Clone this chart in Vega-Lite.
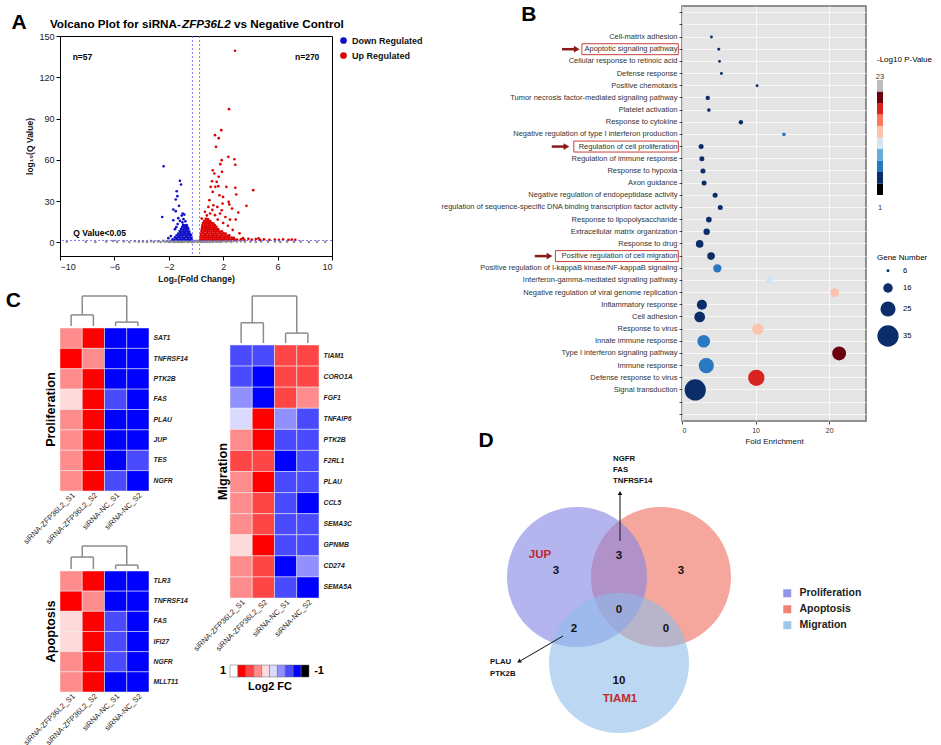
{
  "$schema": "https://vega.github.io/schema/vega-lite/v6.json",
  "background": "white",
  "padding": {"left": 5, "top": 3, "right": 0, "bottom": 0},
  "config": {
    "font": "Liberation Sans",
    "view": {"stroke": null},
    "axis": {"labelFont": "Liberation Sans", "titleFont": "Liberation Sans", "labelColor": "#222", "titleColor": "#111"},
    "legend": {"labelFont": "Liberation Sans", "titleFont": "Liberation Sans"},
    "title": {"font": "Liberation Sans"},
    "text": {"font": "Liberation Sans"}
  },
  "spacing": 15,
  "resolve": {"scale": {"color": "independent", "size": "independent"}},
  "hconcat": [
    {
      "spacing": 7,
      "resolve": {"scale": {"color": "independent"}},
      "vconcat": [
        {
          "spacing": -6,
          "resolve": {"scale": {"color": "independent"}},
          "vconcat": [
            {
              "width": 272, "height": 30,
              "layer": [
                {"data": {"values": [{}]}, "mark": {"type": "text", "text": "A", "fontSize": 21, "fontWeight": "bold", "align": "center", "baseline": "middle"},
                 "encoding": {"x": {"datum": -13.0, "type": "quantitative", "scale": {"domain": [-10, 10], "nice": false, "zero": false}, "axis": null},
                              "y": {"datum": 13, "type": "quantitative", "scale": {"domain": [0, 30], "nice": false, "zero": false}, "axis": null}}},
                {"data": {"values": [{}]}, "mark": {"type": "text", "text": "Volcano Plot for siRNA-", "fontSize": 11.7, "fontWeight": "bold", "align": "left", "baseline": "middle"},
                 "encoding": {"x": {"datum": -10.74, "type": "quantitative"}, "y": {"datum": 12, "type": "quantitative"}}},
                {"data": {"values": [{}]}, "mark": {"type": "text", "text": "ZFP36L2", "fontSize": 11.7, "fontWeight": "bold", "fontStyle": "italic", "align": "left", "baseline": "middle"},
                 "encoding": {"x": {"datum": -1.03, "type": "quantitative"}, "y": {"datum": 12, "type": "quantitative"}}},
                {"data": {"values": [{}]}, "mark": {"type": "text", "text": "vs Negative Control", "fontSize": 11.7, "fontWeight": "bold", "align": "left", "baseline": "middle"},
                 "encoding": {"x": {"datum": 2.8, "type": "quantitative"}, "y": {"datum": 12, "type": "quantitative"}}}
              ]
            },
            {
              "width": 272, "height": 220,
              "view": {"stroke": "#000", "strokeWidth": 1},
              "layer": [
                {
                  "data": {"values": [
                    {"x":-9.5,"y":0.4,"g":"n"},{"x":-8.1,"y":0.3,"g":"n"},{"x":-7.4,"y":0.2,"g":"n"},{"x":-6.6,"y":0.5,"g":"n"},{"x":-6.1,"y":0.9,"g":"n"},{"x":-5.8,"y":0.3,"g":"n"},{"x":-5.3,"y":0.6,"g":"n"},{"x":-4.9,"y":0.2,"g":"n"},{"x":-4.5,"y":0.7,"g":"n"},{"x":-4.2,"y":0.3,"g":"n"},{"x":-3.9,"y":0.5,"g":"n"},{"x":-3.6,"y":0.2,"g":"n"},{"x":-3.3,"y":0.8,"g":"n"},{"x":-3.1,"y":0.3,"g":"n"},{"x":-2.8,"y":0.6,"g":"n"},{"x":-2.6,"y":0.2,"g":"n"},{"x":-2.4,"y":1.0,"g":"n"},{"x":-2.25,"y":0.4,"g":"n"},{"x":-2.1,"y":0.7,"g":"n"},{"x":-1.95,"y":0.2,"g":"n"},{"x":-1.85,"y":1.1,"g":"n"},{"x":-1.75,"y":0.5,"g":"n"},{"x":-1.6,"y":0.15,"g":"n"},{"x":-1.55,"y":0.8,"g":"n"},{"x":-1.45,"y":0.35,"g":"n"},{"x":-1.35,"y":1.0,"g":"n"},{"x":-1.25,"y":0.2,"g":"n"},{"x":-1.15,"y":0.6,"g":"n"},{"x":-1.05,"y":0.1,"g":"n"},{"x":-0.95,"y":0.9,"g":"n"},{"x":-0.85,"y":0.35,"g":"n"},{"x":-0.75,"y":1.1,"g":"n"},{"x":-0.65,"y":0.45,"g":"n"},{"x":-0.55,"y":0.2,"g":"n"},{"x":-0.45,"y":0.95,"g":"n"},{"x":-0.35,"y":0.5,"g":"n"},{"x":-0.25,"y":1.2,"g":"n"},{"x":-0.15,"y":0.3,"g":"n"},{"x":-0.05,"y":0.7,"g":"n"},{"x":0.05,"y":1.0,"g":"n"},{"x":0.15,"y":0.25,"g":"n"},{"x":0.25,"y":1.1,"g":"n"},{"x":0.35,"y":0.45,"g":"n"},{"x":0.45,"y":0.8,"g":"n"},{"x":0.55,"y":0.2,"g":"n"},{"x":0.65,"y":1.15,"g":"n"},{"x":0.75,"y":0.55,"g":"n"},{"x":0.85,"y":0.3,"g":"n"},{"x":0.95,"y":0.9,"g":"n"},{"x":1.05,"y":0.2,"g":"n"},{"x":1.15,"y":0.65,"g":"n"},{"x":1.3,"y":1.0,"g":"n"},{"x":1.45,"y":0.35,"g":"n"},{"x":1.6,"y":0.8,"g":"n"},{"x":1.75,"y":0.2,"g":"n"},{"x":1.9,"y":0.55,"g":"n"},{"x":2.05,"y":1.05,"g":"n"},{"x":2.2,"y":0.3,"g":"n"},{"x":2.4,"y":0.7,"g":"n"},{"x":2.6,"y":0.2,"g":"n"},{"x":2.8,"y":0.9,"g":"n"},{"x":3.0,"y":0.4,"g":"n"},{"x":3.3,"y":0.7,"g":"n"},{"x":3.6,"y":0.3,"g":"n"},{"x":4.0,"y":0.5,"g":"n"},{"x":4.4,"y":0.2,"g":"n"},{"x":4.8,"y":0.6,"g":"n"},{"x":5.3,"y":0.3,"g":"n"},{"x":5.8,"y":0.5,"g":"n"},{"x":6.2,"y":0.2,"g":"n"},{"x":6.7,"y":0.4,"g":"n"},{"x":7.2,"y":0.3,"g":"n"},{"x":7.7,"y":0.5,"g":"n"},{"x":8.3,"y":0.2,"g":"n"},{"x":8.9,"y":0.4,"g":"n"},{"x":9.5,"y":0.3,"g":"n"},{"x":-0.9,"y":0.5,"g":"n"},{"x":-0.6,"y":0.8,"g":"n"},{"x":-0.3,"y":0.1,"g":"n"},{"x":0.1,"y":0.55,"g":"n"},{"x":0.4,"y":0.15,"g":"n"},{"x":0.7,"y":0.4,"g":"n"},{"x":1.0,"y":0.6,"g":"n"},{"x":1.25,"y":0.3,"g":"n"},{"x":1.55,"y":0.5,"g":"n"},{"x":1.85,"y":0.8,"g":"n"},{"x":-1.9,"y":0.6,"g":"n"},{"x":-2.0,"y":0.3,"g":"n"},{"x":-1.3,"y":0.55,"g":"n"},{"x":-1.7,"y":0.9,"g":"n"},
                    {"x":-2.38,"y":55.3,"g":"d"},{"x":-1.18,"y":44.7,"g":"d"},{"x":-1.1,"y":42.0,"g":"d"},{"x":-1.42,"y":37.1,"g":"d"},{"x":-1.37,"y":33.5,"g":"d"},{"x":-1.49,"y":31.1,"g":"d"},{"x":-1.25,"y":26.5,"g":"d"},{"x":-1.67,"y":23.8,"g":"d"},{"x":-1.49,"y":22.6,"g":"d"},{"x":-0.98,"y":20.9,"g":"d"},{"x":-1.05,"y":19.4,"g":"d"},{"x":-0.86,"y":20.1,"g":"d"},{"x":-2.48,"y":18.4,"g":"d"},{"x":-1.3,"y":17.5,"g":"d"},{"x":-1.67,"y":16.0,"g":"d"},{"x":-1.18,"y":15.5,"g":"d"},{"x":-0.92,"y":16.8,"g":"d"},{"x":-1.0,"y":14.5,"g":"d"},{"x":-1.35,"y":13.2,"g":"d"},{"x":-2.03,"y":3.0,"g":"d"},{"x":-1.85,"y":4.5,"g":"d"},{"x":-1.55,"y":9.5,"g":"d"},{"x":-1.45,"y":11.0,"g":"d"},{"x":-0.78,"y":15.2,"g":"d"},
                    {"x":-1.72,"y":2.1,"g":"d"},{"x":-1.58,"y":1.9,"g":"d"},{"x":-1.44,"y":2.3,"g":"d"},{"x":-1.3,"y":1.8,"g":"d"},{"x":-1.16,"y":2.2,"g":"d"},{"x":-1.02,"y":1.9,"g":"d"},{"x":-0.88,"y":2.3,"g":"d"},{"x":-0.74,"y":1.8,"g":"d"},{"x":-0.6,"y":2.1,"g":"d"},{"x":-0.46,"y":1.9,"g":"d"},{"x":-0.34,"y":2.2,"g":"d"},
                    {"x":-1.55,"y":3.6,"g":"d"},{"x":-1.41,"y":3.3,"g":"d"},{"x":-1.27,"y":3.7,"g":"d"},{"x":-1.13,"y":3.4,"g":"d"},{"x":-0.99,"y":3.6,"g":"d"},{"x":-0.85,"y":3.3,"g":"d"},{"x":-0.71,"y":3.7,"g":"d"},{"x":-0.57,"y":3.4,"g":"d"},{"x":-0.43,"y":3.6,"g":"d"},{"x":-0.33,"y":3.3,"g":"d"},
                    {"x":-1.42,"y":5.1,"g":"d"},{"x":-1.28,"y":4.8,"g":"d"},{"x":-1.14,"y":5.2,"g":"d"},{"x":-1.0,"y":4.9,"g":"d"},{"x":-0.86,"y":5.1,"g":"d"},{"x":-0.72,"y":4.8,"g":"d"},{"x":-0.58,"y":5.2,"g":"d"},{"x":-0.44,"y":4.9,"g":"d"},{"x":-0.36,"y":5.3,"g":"d"},
                    {"x":-1.3,"y":6.4,"g":"d"},{"x":-1.16,"y":6.7,"g":"d"},{"x":-1.02,"y":6.3,"g":"d"},{"x":-0.88,"y":6.6,"g":"d"},{"x":-0.74,"y":6.4,"g":"d"},{"x":-0.6,"y":6.7,"g":"d"},{"x":-0.46,"y":6.3,"g":"d"},
                    {"x":-1.2,"y":8.1,"g":"d"},{"x":-1.06,"y":7.8,"g":"d"},{"x":-0.92,"y":8.2,"g":"d"},{"x":-0.78,"y":7.9,"g":"d"},{"x":-0.64,"y":8.1,"g":"d"},{"x":-0.5,"y":7.8,"g":"d"},
                    {"x":-1.1,"y":9.6,"g":"d"},{"x":-0.96,"y":9.3,"g":"d"},{"x":-0.82,"y":9.7,"g":"d"},{"x":-0.68,"y":9.4,"g":"d"},{"x":-0.56,"y":9.6,"g":"d"},
                    {"x":-1.02,"y":11.1,"g":"d"},{"x":-0.88,"y":10.8,"g":"d"},{"x":-0.74,"y":11.2,"g":"d"},{"x":-0.62,"y":10.9,"g":"d"},
                    {"x":-0.95,"y":12.6,"g":"d"},{"x":-0.8,"y":12.3,"g":"d"},{"x":-0.68,"y":12.5,"g":"d"},
                    {"x":2.87,"y":139.3,"g":"u"},{"x":2.43,"y":96.8,"g":"u"},{"x":1.86,"y":81.5,"g":"u"},{"x":1.4,"y":77.9,"g":"u"},{"x":1.67,"y":75.7,"g":"u"},{"x":1.47,"y":69.4,"g":"u"},{"x":2.38,"y":62.1,"g":"u"},{"x":2.82,"y":60.4,"g":"u"},{"x":1.89,"y":59.7,"g":"u"},{"x":2.89,"y":56.3,"g":"u"},{"x":1.79,"y":56.8,"g":"u"},{"x":1.23,"y":52.4,"g":"u"},{"x":1.35,"y":50.0,"g":"u"},{"x":1.91,"y":51.2,"g":"u"},{"x":1.67,"y":47.6,"g":"u"},{"x":4.21,"y":37.9,"g":"u"},{"x":2.89,"y":39.6,"g":"u"},{"x":1.18,"y":44.4,"g":"u"},{"x":1.52,"y":43.9,"g":"u"},{"x":1.42,"y":40.3,"g":"u"},{"x":1.08,"y":40.3,"g":"u"},{"x":1.64,"y":40.8,"g":"u"},{"x":2.23,"y":40.3,"g":"u"},{"x":1.23,"y":36.6,"g":"u"},{"x":1.72,"y":34.2,"g":"u"},{"x":2.96,"y":34.7,"g":"u"},{"x":2.4,"y":29.4,"g":"u"},{"x":3.71,"y":26.5,"g":"u"},{"x":1.99,"y":33.0,"g":"u"},{"x":2.65,"y":24.5,"g":"u"},{"x":3.11,"y":21.6,"g":"u"},{"x":2.92,"y":16.5,"g":"u"},{"x":2.5,"y":16.5,"g":"u"},{"x":2.16,"y":18.4,"g":"u"},{"x":1.89,"y":23.3,"g":"u"},{"x":1.57,"y":25.7,"g":"u"},{"x":1.28,"y":26.9,"g":"u"},{"x":0.99,"y":30.6,"g":"u"},{"x":0.91,"y":25.7,"g":"u"},{"x":0.66,"y":22.1,"g":"u"},{"x":1.03,"y":20.9,"g":"u"},{"x":1.4,"y":19.7,"g":"u"},{"x":1.77,"y":20.9,"g":"u"},{"x":0.42,"y":17.2,"g":"u"},{"x":1.2,"y":23.5,"g":"u"},{"x":0.8,"y":19.5,"g":"u"},{"x":1.6,"y":16.5,"g":"u"},{"x":2.0,"y":14.0,"g":"u"},{"x":2.35,"y":12.0,"g":"u"},{"x":2.7,"y":9.0,"g":"u"},{"x":3.2,"y":6.5,"g":"u"},{"x":2.45,"y":27.5,"g":"u"},{"x":1.95,"y":28.2,"g":"u"},
                    {"x":3.3,"y":2.2,"g":"u"},{"x":3.55,"y":1.8,"g":"u"},{"x":3.85,"y":2.5,"g":"u"},{"x":4.1,"y":1.9,"g":"u"},{"x":4.4,"y":2.3,"g":"u"},{"x":4.7,"y":1.7,"g":"u"},{"x":5.0,"y":2.1,"g":"u"},{"x":5.4,"y":1.8,"g":"u"},{"x":5.8,"y":2.0,"g":"u"},{"x":6.1,"y":1.7,"g":"u"},{"x":6.4,"y":2.2,"g":"u"},{"x":6.8,"y":1.8,"g":"u"},{"x":7.05,"y":2.0,"g":"u"},{"x":7.3,"y":1.7,"g":"u"},{"x":3.45,"y":3.0,"g":"u"},{"x":4.6,"y":2.8,"g":"u"},
                    {"x":0.32,"y":2.1,"g":"u"},{"x":0.47,"y":1.8,"g":"u"},{"x":0.62,"y":2.2,"g":"u"},{"x":0.77,"y":1.9,"g":"u"},{"x":0.92,"y":2.3,"g":"u"},{"x":1.07,"y":1.8,"g":"u"},{"x":1.22,"y":2.1,"g":"u"},{"x":1.37,"y":1.9,"g":"u"},{"x":1.52,"y":2.2,"g":"u"},{"x":1.67,"y":1.8,"g":"u"},{"x":1.82,"y":2.1,"g":"u"},{"x":1.97,"y":1.9,"g":"u"},{"x":2.12,"y":2.2,"g":"u"},{"x":2.27,"y":1.8,"g":"u"},{"x":2.42,"y":2.1,"g":"u"},{"x":2.57,"y":1.9,"g":"u"},{"x":2.72,"y":2.2,"g":"u"},{"x":2.87,"y":1.8,"g":"u"},{"x":3.02,"y":2.0,"g":"u"},
                    {"x":0.34,"y":3.6,"g":"u"},{"x":0.49,"y":3.3,"g":"u"},{"x":0.64,"y":3.7,"g":"u"},{"x":0.79,"y":3.4,"g":"u"},{"x":0.94,"y":3.6,"g":"u"},{"x":1.09,"y":3.3,"g":"u"},{"x":1.24,"y":3.7,"g":"u"},{"x":1.39,"y":3.4,"g":"u"},{"x":1.54,"y":3.6,"g":"u"},{"x":1.69,"y":3.3,"g":"u"},{"x":1.84,"y":3.7,"g":"u"},{"x":1.99,"y":3.4,"g":"u"},{"x":2.14,"y":3.6,"g":"u"},{"x":2.29,"y":3.3,"g":"u"},{"x":2.44,"y":3.6,"g":"u"},{"x":2.62,"y":3.4,"g":"u"},{"x":2.78,"y":3.2,"g":"u"},
                    {"x":0.36,"y":5.1,"g":"u"},{"x":0.51,"y":4.8,"g":"u"},{"x":0.66,"y":5.2,"g":"u"},{"x":0.81,"y":4.9,"g":"u"},{"x":0.96,"y":5.1,"g":"u"},{"x":1.11,"y":4.8,"g":"u"},{"x":1.26,"y":5.2,"g":"u"},{"x":1.41,"y":4.9,"g":"u"},{"x":1.56,"y":5.1,"g":"u"},{"x":1.71,"y":4.8,"g":"u"},{"x":1.86,"y":5.2,"g":"u"},{"x":2.01,"y":4.9,"g":"u"},{"x":2.16,"y":5.1,"g":"u"},{"x":2.31,"y":4.8,"g":"u"},{"x":2.45,"y":5.0,"g":"u"},
                    {"x":0.38,"y":6.4,"g":"u"},{"x":0.53,"y":6.7,"g":"u"},{"x":0.68,"y":6.3,"g":"u"},{"x":0.83,"y":6.6,"g":"u"},{"x":0.98,"y":6.4,"g":"u"},{"x":1.13,"y":6.7,"g":"u"},{"x":1.28,"y":6.3,"g":"u"},{"x":1.43,"y":6.6,"g":"u"},{"x":1.58,"y":6.4,"g":"u"},{"x":1.73,"y":6.7,"g":"u"},{"x":1.88,"y":6.3,"g":"u"},{"x":2.03,"y":6.6,"g":"u"},{"x":2.18,"y":6.4,"g":"u"},
                    {"x":0.4,"y":8.1,"g":"u"},{"x":0.55,"y":7.8,"g":"u"},{"x":0.7,"y":8.2,"g":"u"},{"x":0.85,"y":7.9,"g":"u"},{"x":1.0,"y":8.1,"g":"u"},{"x":1.15,"y":7.8,"g":"u"},{"x":1.3,"y":8.2,"g":"u"},{"x":1.45,"y":7.9,"g":"u"},{"x":1.6,"y":8.1,"g":"u"},{"x":1.75,"y":7.8,"g":"u"},{"x":1.9,"y":8.0,"g":"u"},
                    {"x":0.43,"y":9.6,"g":"u"},{"x":0.58,"y":9.3,"g":"u"},{"x":0.73,"y":9.7,"g":"u"},{"x":0.88,"y":9.4,"g":"u"},{"x":1.03,"y":9.6,"g":"u"},{"x":1.18,"y":9.3,"g":"u"},{"x":1.33,"y":9.7,"g":"u"},{"x":1.48,"y":9.4,"g":"u"},{"x":1.63,"y":9.5,"g":"u"},
                    {"x":0.45,"y":11.1,"g":"u"},{"x":0.6,"y":10.8,"g":"u"},{"x":0.75,"y":11.2,"g":"u"},{"x":0.9,"y":10.9,"g":"u"},{"x":1.05,"y":11.1,"g":"u"},{"x":1.2,"y":10.8,"g":"u"},{"x":1.35,"y":11.0,"g":"u"},{"x":1.5,"y":11.2,"g":"u"},
                    {"x":0.48,"y":12.6,"g":"u"},{"x":0.63,"y":12.3,"g":"u"},{"x":0.78,"y":12.7,"g":"u"},{"x":0.93,"y":12.4,"g":"u"},{"x":1.08,"y":12.6,"g":"u"},{"x":1.23,"y":12.3,"g":"u"},{"x":1.38,"y":12.5,"g":"u"},
                    {"x":0.52,"y":14.1,"g":"u"},{"x":0.67,"y":13.8,"g":"u"},{"x":0.82,"y":14.2,"g":"u"},{"x":0.97,"y":13.9,"g":"u"},{"x":1.12,"y":14.1,"g":"u"},{"x":1.27,"y":13.8,"g":"u"},
                    {"x":0.6,"y":15.6,"g":"u"},{"x":0.75,"y":15.3,"g":"u"},{"x":0.9,"y":15.7,"g":"u"},{"x":1.05,"y":15.4,"g":"u"},{"x":0.72,"y":17.1,"g":"u"},{"x":0.88,"y":16.8,"g":"u"}
                  ]},
                  "mark": {"type": "circle", "size": 7, "opacity": 1},
                  "encoding": {
                    "x": {"field": "x", "type": "quantitative", "scale": {"domain": [-10, 10], "nice": false, "zero": false},
                          "axis": {"values": [-10, -8, -6, -4, -2, 0, 2, 4, 6, 8, 10], "labelOverlap": false, "title": "Log₂(Fold Change)", "grid": false, "tickSize": 4, "tickColor": "#000", "domainColor": "#000", "labelFontSize": 9, "titleFontSize": 8.5, "titleFontWeight": "bold", "titlePadding": 3, "labelPadding": 2}},
                    "y": {"field": "y", "type": "quantitative", "scale": {"domain": [-10, 150], "nice": false, "zero": false},
                          "axis": {"values": [0, 30, 60, 90, 120, 150], "labelOverlap": false, "title": "log₁₀(Q Value)", "grid": false, "tickSize": 4, "tickColor": "#000", "domainColor": "#000", "labelFontSize": 9, "titleFontSize": 8.5, "titleFontWeight": "bold", "titlePadding": 4, "labelPadding": 2}},
                    "color": {"field": "g", "type": "nominal",
                              "scale": {"domain": ["d", "u", "n"], "range": ["#1010c8", "#dd0000", "#8c8c8c"]},
                              "legend": {"values": ["d", "u"], "labelExpr": "datum.label == 'd' ? 'Down Regulated' : 'Up Regulated'", "title": null, "orient": "right", "offset": 7, "symbolType": "circle", "symbolSize": 45, "labelFontSize": 9, "labelFontWeight": "bold", "labelColor": "#111", "rowPadding": 5, "padding": 0}}
                  }
                },
                {"data": {"values": [{}]}, "mark": {"type": "rule", "color": "#5a5aff", "strokeDash": [2, 2], "strokeWidth": 0.8}, "encoding": {"x": {"datum": -0.263, "type": "quantitative"}}},
                {"data": {"values": [{}]}, "mark": {"type": "rule", "color": "#5a5aff", "strokeDash": [2, 2], "strokeWidth": 0.8}, "encoding": {"x": {"datum": 0.263, "type": "quantitative"}}},
                {"data": {"values": [{}]}, "mark": {"type": "rule", "color": "#5a5aff", "strokeDash": [2, 2], "strokeWidth": 0.8}, "encoding": {"y": {"datum": 1.3, "type": "quantitative"}}},
                {"data": {"values": [{}]}, "mark": {"type": "text", "text": "n=57", "fontSize": 8.5, "fontWeight": "bold", "align": "left"}, "encoding": {"x": {"datum": -9.07, "type": "quantitative"}, "y": {"datum": 135, "type": "quantitative"}}},
                {"data": {"values": [{}]}, "mark": {"type": "text", "text": "n=270", "fontSize": 8.5, "fontWeight": "bold", "align": "left"}, "encoding": {"x": {"datum": 7.28, "type": "quantitative"}, "y": {"datum": 135, "type": "quantitative"}}},
                {"data": {"values": [{}]}, "mark": {"type": "text", "text": "Q Value<0.05", "fontSize": 8.5, "fontWeight": "bold", "align": "left"}, "encoding": {"x": {"datum": -9.02, "type": "quantitative"}, "y": {"datum": 6.8, "type": "quantitative"}}}
              ]
            }
          ]
        },
        {
          "spacing": 3,
          "hconcat": [
            {
              "spacing": -14,
              "vconcat": [
                {
                  "spacing": 0,
                  "vconcat": [
                    {
                      "width": 89, "height": 30,
                      "layer": [
                        {"data": {"values": [
                          {"x":0.5,"x2":0.5,"y":0,"y2":0.37},{"x":1.5,"x2":1.5,"y":0,"y2":0.37},{"x":0.5,"x2":1.5,"y":0.37,"y2":0.37},
                          {"x":2.5,"x2":2.5,"y":0,"y2":0.13},{"x":3.5,"x2":3.5,"y":0,"y2":0.13},{"x":2.5,"x2":3.5,"y":0.13,"y2":0.13},
                          {"x":1,"x2":1,"y":0.37,"y2":1},{"x":3,"x2":3,"y":0.13,"y2":1},{"x":1,"x2":3,"y":1,"y2":1}]},
                         "mark": {"type": "rule", "color": "#8c8c8c", "strokeWidth": 1.5},
                         "encoding": {"x": {"field": "x", "type": "quantitative", "scale": {"domain": [0, 4], "nice": false, "zero": false}, "axis": null}, "x2": {"field": "x2"},
                                      "y": {"field": "y", "type": "quantitative", "scale": {"domain": [0, 1], "nice": false}, "axis": null}, "y2": {"field": "y2"}}},
                        {"data": {"values": [{}]}, "mark": {"type": "text", "text": "C", "fontSize": 21, "fontWeight": "bold", "align": "center", "baseline": "middle"},
                         "encoding": {"x": {"datum": -2.1, "type": "quantitative"}, "y": {"datum": 0.83, "type": "quantitative"}}}
                      ]
                    },
                    {
                      "width": 89, "height": 163,
                      "title": {"text": "Proliferation", "orient": "left", "fontSize": 12.7, "fontWeight": "bold", "offset": -36, "anchor": "middle", "frame": "group", "color": "#000"},
                      "data": {"values": [
                        {"g":"SAT1","s":"siRNA-ZFP36L2_S1","v":0.3},{"g":"SAT1","s":"siRNA-ZFP36L2_S2","v":0.7},{"g":"SAT1","s":"siRNA-NC_S1","v":-0.7},{"g":"SAT1","s":"siRNA-NC_S2","v":-0.7},
                        {"g":"TNFRSF14","s":"siRNA-ZFP36L2_S1","v":0.7},{"g":"TNFRSF14","s":"siRNA-ZFP36L2_S2","v":0.3},{"g":"TNFRSF14","s":"siRNA-NC_S1","v":-0.7},{"g":"TNFRSF14","s":"siRNA-NC_S2","v":-0.7},
                        {"g":"PTK2B","s":"siRNA-ZFP36L2_S1","v":0.3},{"g":"PTK2B","s":"siRNA-ZFP36L2_S2","v":0.7},{"g":"PTK2B","s":"siRNA-NC_S1","v":-0.7},{"g":"PTK2B","s":"siRNA-NC_S2","v":-0.7},
                        {"g":"FAS","s":"siRNA-ZFP36L2_S1","v":0.1},{"g":"FAS","s":"siRNA-ZFP36L2_S2","v":0.7},{"g":"FAS","s":"siRNA-NC_S1","v":-0.5},{"g":"FAS","s":"siRNA-NC_S2","v":-0.7},
                        {"g":"PLAU","s":"siRNA-ZFP36L2_S1","v":0.3},{"g":"PLAU","s":"siRNA-ZFP36L2_S2","v":0.7},{"g":"PLAU","s":"siRNA-NC_S1","v":-0.7},{"g":"PLAU","s":"siRNA-NC_S2","v":-0.7},
                        {"g":"JUP","s":"siRNA-ZFP36L2_S1","v":0.3},{"g":"JUP","s":"siRNA-ZFP36L2_S2","v":0.7},{"g":"JUP","s":"siRNA-NC_S1","v":-0.7},{"g":"JUP","s":"siRNA-NC_S2","v":-0.7},
                        {"g":"TES","s":"siRNA-ZFP36L2_S1","v":0.3},{"g":"TES","s":"siRNA-ZFP36L2_S2","v":0.7},{"g":"TES","s":"siRNA-NC_S1","v":-0.7},{"g":"TES","s":"siRNA-NC_S2","v":-0.5},
                        {"g":"NGFR","s":"siRNA-ZFP36L2_S1","v":0.3},{"g":"NGFR","s":"siRNA-ZFP36L2_S2","v":0.7},{"g":"NGFR","s":"siRNA-NC_S1","v":-0.5},{"g":"NGFR","s":"siRNA-NC_S2","v":-0.7}]},
                      "mark": {"type": "rect", "stroke": "#eeeeee", "strokeWidth": 0.5},
                      "encoding": {
                        "x": {"field": "s", "type": "nominal", "sort": null, "scale": {"paddingInner": 0, "paddingOuter": 0}, "axis": {"title": null, "labelAngle": -45, "labelFontSize": 7.6, "ticks": false, "domain": false, "labelPadding": 0, "labelLimit": 200}},
                        "y": {"field": "g", "type": "nominal", "sort": null, "scale": {"paddingInner": 0, "paddingOuter": 0}, "axis": {"orient": "right", "title": null, "labelFontSize": 6.8, "labelFontStyle": "italic", "labelFontWeight": "bold", "ticks": false, "domain": false, "labelPadding": 4}},
                        "color": {"field": "v", "type": "quantitative", "scale": {"type": "quantize", "domain": [-1, 1], "range": ["#000000", "#0000ff", "#4a4aff", "#9090ff", "#dadaff", "#ffdada", "#ff8c8c", "#ff4646", "#ff0000", "#ffffff"]}, "legend": null}
                      }
                    }
                  ]
                },
                {
                  "spacing": 0,
                  "vconcat": [
                    {
                      "width": 89, "height": 23,
                      "data": {"values": [
                        {"x":0.5,"x2":0.5,"y":0,"y2":0.52},{"x":1.5,"x2":1.5,"y":0,"y2":0.52},{"x":0.5,"x2":1.5,"y":0.52,"y2":0.52},
                        {"x":2.5,"x2":2.5,"y":0,"y2":0.17},{"x":3.5,"x2":3.5,"y":0,"y2":0.17},{"x":2.5,"x2":3.5,"y":0.17,"y2":0.17},
                        {"x":1,"x2":1,"y":0.52,"y2":1},{"x":3,"x2":3,"y":0.17,"y2":1},{"x":1,"x2":3,"y":1,"y2":1}]},
                      "mark": {"type": "rule", "color": "#8c8c8c", "strokeWidth": 1.5},
                      "encoding": {"x": {"field": "x", "type": "quantitative", "scale": {"domain": [0, 4], "nice": false, "zero": false}, "axis": null}, "x2": {"field": "x2"},
                                   "y": {"field": "y", "type": "quantitative", "scale": {"domain": [0, 1], "nice": false}, "axis": null}, "y2": {"field": "y2"}}
                    },
                    {
                      "width": 89, "height": 121,
                      "title": {"text": "Apoptosis", "orient": "left", "fontSize": 12.7, "fontWeight": "bold", "offset": -36, "anchor": "middle", "frame": "group", "color": "#000"},
                      "data": {"values": [
                        {"g":"TLR3","s":"siRNA-ZFP36L2_S1","v":0.3},{"g":"TLR3","s":"siRNA-ZFP36L2_S2","v":0.7},{"g":"TLR3","s":"siRNA-NC_S1","v":-0.7},{"g":"TLR3","s":"siRNA-NC_S2","v":-0.7},
                        {"g":"TNFRSF14","s":"siRNA-ZFP36L2_S1","v":0.7},{"g":"TNFRSF14","s":"siRNA-ZFP36L2_S2","v":0.3},{"g":"TNFRSF14","s":"siRNA-NC_S1","v":-0.7},{"g":"TNFRSF14","s":"siRNA-NC_S2","v":-0.7},
                        {"g":"FAS","s":"siRNA-ZFP36L2_S1","v":0.1},{"g":"FAS","s":"siRNA-ZFP36L2_S2","v":0.7},{"g":"FAS","s":"siRNA-NC_S1","v":-0.5},{"g":"FAS","s":"siRNA-NC_S2","v":-0.7},
                        {"g":"IFI27","s":"siRNA-ZFP36L2_S1","v":0.1},{"g":"IFI27","s":"siRNA-ZFP36L2_S2","v":0.7},{"g":"IFI27","s":"siRNA-NC_S1","v":-0.5},{"g":"IFI27","s":"siRNA-NC_S2","v":-0.7},
                        {"g":"NGFR","s":"siRNA-ZFP36L2_S1","v":0.3},{"g":"NGFR","s":"siRNA-ZFP36L2_S2","v":0.7},{"g":"NGFR","s":"siRNA-NC_S1","v":-0.5},{"g":"NGFR","s":"siRNA-NC_S2","v":-0.7},
                        {"g":"MLLT11","s":"siRNA-ZFP36L2_S1","v":0.3},{"g":"MLLT11","s":"siRNA-ZFP36L2_S2","v":0.7},{"g":"MLLT11","s":"siRNA-NC_S1","v":-0.7},{"g":"MLLT11","s":"siRNA-NC_S2","v":-0.7}]},
                      "mark": {"type": "rect", "stroke": "#eeeeee", "strokeWidth": 0.5},
                      "encoding": {
                        "x": {"field": "s", "type": "nominal", "sort": null, "scale": {"paddingInner": 0, "paddingOuter": 0}, "axis": {"title": null, "labelAngle": -45, "labelFontSize": 7.6, "ticks": false, "domain": false, "labelPadding": 0, "labelLimit": 200}},
                        "y": {"field": "g", "type": "nominal", "sort": null, "scale": {"paddingInner": 0, "paddingOuter": 0}, "axis": {"orient": "right", "title": null, "labelFontSize": 6.8, "labelFontStyle": "italic", "labelFontWeight": "bold", "ticks": false, "domain": false, "labelPadding": 4}},
                        "color": {"field": "v", "type": "quantitative", "scale": {"type": "quantize", "domain": [-1, 1], "range": ["#000000", "#0000ff", "#4a4aff", "#9090ff", "#dadaff", "#ffdada", "#ff8c8c", "#ff4646", "#ff0000", "#ffffff"]}, "legend": null}
                      }
                    }
                  ]
                }
              ]
            },
            {
              "spacing": 11,
              "vconcat": [
                {
                  "spacing": 0,
                  "vconcat": [
                    {
                      "width": 89, "height": 47,
                      "data": {"values": [
                        {"x":0.5,"x2":0.5,"y":0,"y2":0.43},{"x":1.5,"x2":1.5,"y":0,"y2":0.43},{"x":0.5,"x2":1.5,"y":0.43,"y2":0.43},
                        {"x":2.5,"x2":2.5,"y":0,"y2":0.21},{"x":3.5,"x2":3.5,"y":0,"y2":0.21},{"x":2.5,"x2":3.5,"y":0.21,"y2":0.21},
                        {"x":1,"x2":1,"y":0.43,"y2":1},{"x":3,"x2":3,"y":0.21,"y2":1},{"x":1,"x2":3,"y":1,"y2":1}]},
                      "mark": {"type": "rule", "color": "#8c8c8c", "strokeWidth": 1.5},
                      "encoding": {"x": {"field": "x", "type": "quantitative", "scale": {"domain": [0, 4], "nice": false, "zero": false}, "axis": null}, "x2": {"field": "x2"},
                                   "y": {"field": "y", "type": "quantitative", "scale": {"domain": [0, 1], "nice": false}, "axis": null}, "y2": {"field": "y2"}}
                    },
                    {
                      "width": 89, "height": 253,
                      "title": {"text": "Migration", "orient": "left", "fontSize": 12.7, "fontWeight": "bold", "offset": -38, "anchor": "middle", "frame": "group", "color": "#000"},
                      "data": {"values": [
                        {"g":"TIAM1","s":"siRNA-ZFP36L2_S1","v":-0.5},{"g":"TIAM1","s":"siRNA-ZFP36L2_S2","v":-0.5},{"g":"TIAM1","s":"siRNA-NC_S1","v":0.5},{"g":"TIAM1","s":"siRNA-NC_S2","v":0.5},
                        {"g":"CORO1A","s":"siRNA-ZFP36L2_S1","v":-0.5},{"g":"CORO1A","s":"siRNA-ZFP36L2_S2","v":-0.7},{"g":"CORO1A","s":"siRNA-NC_S1","v":0.5},{"g":"CORO1A","s":"siRNA-NC_S2","v":0.5},
                        {"g":"FGF1","s":"siRNA-ZFP36L2_S1","v":-0.3},{"g":"FGF1","s":"siRNA-ZFP36L2_S2","v":-0.7},{"g":"FGF1","s":"siRNA-NC_S1","v":0.5},{"g":"FGF1","s":"siRNA-NC_S2","v":0.3},
                        {"g":"TNFAIP6","s":"siRNA-ZFP36L2_S1","v":-0.1},{"g":"TNFAIP6","s":"siRNA-ZFP36L2_S2","v":0.7},{"g":"TNFAIP6","s":"siRNA-NC_S1","v":-0.3},{"g":"TNFAIP6","s":"siRNA-NC_S2","v":-0.5},
                        {"g":"PTK2B","s":"siRNA-ZFP36L2_S1","v":0.3},{"g":"PTK2B","s":"siRNA-ZFP36L2_S2","v":0.7},{"g":"PTK2B","s":"siRNA-NC_S1","v":-0.5},{"g":"PTK2B","s":"siRNA-NC_S2","v":-0.5},
                        {"g":"F2RL1","s":"siRNA-ZFP36L2_S1","v":0.5},{"g":"F2RL1","s":"siRNA-ZFP36L2_S2","v":0.5},{"g":"F2RL1","s":"siRNA-NC_S1","v":-0.7},{"g":"F2RL1","s":"siRNA-NC_S2","v":-0.5},
                        {"g":"PLAU","s":"siRNA-ZFP36L2_S1","v":0.3},{"g":"PLAU","s":"siRNA-ZFP36L2_S2","v":0.7},{"g":"PLAU","s":"siRNA-NC_S1","v":-0.5},{"g":"PLAU","s":"siRNA-NC_S2","v":-0.5},
                        {"g":"CCL5","s":"siRNA-ZFP36L2_S1","v":0.3},{"g":"CCL5","s":"siRNA-ZFP36L2_S2","v":0.5},{"g":"CCL5","s":"siRNA-NC_S1","v":-0.5},{"g":"CCL5","s":"siRNA-NC_S2","v":-0.7},
                        {"g":"SEMA3C","s":"siRNA-ZFP36L2_S1","v":0.3},{"g":"SEMA3C","s":"siRNA-ZFP36L2_S2","v":0.5},{"g":"SEMA3C","s":"siRNA-NC_S1","v":-0.5},{"g":"SEMA3C","s":"siRNA-NC_S2","v":-0.5},
                        {"g":"GPNMB","s":"siRNA-ZFP36L2_S1","v":0.1},{"g":"GPNMB","s":"siRNA-ZFP36L2_S2","v":0.7},{"g":"GPNMB","s":"siRNA-NC_S1","v":-0.5},{"g":"GPNMB","s":"siRNA-NC_S2","v":-0.5},
                        {"g":"CD274","s":"siRNA-ZFP36L2_S1","v":0.3},{"g":"CD274","s":"siRNA-ZFP36L2_S2","v":0.5},{"g":"CD274","s":"siRNA-NC_S1","v":-0.7},{"g":"CD274","s":"siRNA-NC_S2","v":-0.3},
                        {"g":"SEMA5A","s":"siRNA-ZFP36L2_S1","v":0.3},{"g":"SEMA5A","s":"siRNA-ZFP36L2_S2","v":0.5},{"g":"SEMA5A","s":"siRNA-NC_S1","v":-0.5},{"g":"SEMA5A","s":"siRNA-NC_S2","v":-0.7}]},
                      "mark": {"type": "rect", "stroke": "#eeeeee", "strokeWidth": 0.5},
                      "encoding": {
                        "x": {"field": "s", "type": "nominal", "sort": null, "scale": {"paddingInner": 0, "paddingOuter": 0}, "axis": {"title": null, "labelAngle": -45, "labelFontSize": 7.6, "ticks": false, "domain": false, "labelPadding": 0, "labelLimit": 200}},
                        "y": {"field": "g", "type": "nominal", "sort": null, "scale": {"paddingInner": 0, "paddingOuter": 0}, "axis": {"orient": "right", "title": null, "labelFontSize": 6.8, "labelFontStyle": "italic", "labelFontWeight": "bold", "ticks": false, "domain": false, "labelPadding": 4}},
                        "color": {"field": "v", "type": "quantitative", "scale": {"type": "quantize", "domain": [-1, 1], "range": ["#000000", "#0000ff", "#4a4aff", "#9090ff", "#dadaff", "#ffdada", "#ff8c8c", "#ff4646", "#ff0000", "#ffffff"]}, "legend": null}
                      }
                    }
                  ]
                },
                {
                  "width": 79, "height": 12,
                  "layer": [
                    {"data": {"values": [{"v":0.9},{"v":0.7},{"v":0.5},{"v":0.3},{"v":0.1},{"v":-0.1},{"v":-0.3},{"v":-0.5},{"v":-0.7},{"v":-0.9}]},
                     "mark": {"type": "rect", "stroke": "#666", "strokeWidth": 0.5},
                     "encoding": {
                       "x": {"field": "v", "type": "ordinal", "sort": null, "scale": {"paddingInner": 0, "paddingOuter": 0}, "axis": {"title": "Log2 FC", "labels": false, "ticks": false, "domain": false, "titleFontSize": 11, "titleFontWeight": "bold", "titlePadding": 3, "titleColor": "#000"}},
                       "color": {"field": "v", "type": "quantitative", "scale": {"type": "quantize", "domain": [-1, 1], "range": ["#000000", "#0000ff", "#4a4aff", "#9090ff", "#dadaff", "#ffdada", "#ff8c8c", "#ff4646", "#ff0000", "#ffffff"]}, "legend": null}}},
                    {"data": {"values": [{}]}, "mark": {"type": "text", "text": "1", "fontSize": 11, "fontWeight": "bold", "dx": -11, "baseline": "middle"}, "encoding": {"x": {"datum": 0.9, "type": "ordinal", "bandPosition": 0.5}}},
                    {"data": {"values": [{}]}, "mark": {"type": "text", "text": "-1", "fontSize": 11, "fontWeight": "bold", "dx": 14, "baseline": "middle"}, "encoding": {"x": {"datum": -0.9, "type": "ordinal", "bandPosition": 0.5}}}
                  ]
                }
              ]
            }
          ]
        }
      ]
    },
    {
      "spacing": -42,
      "resolve": {"scale": {"color": "independent", "size": "independent"}},
      "vconcat": [
        {
          "width": 184, "height": 415,
          "view": {"fill": "#e5e5e5", "stroke": "#707070", "strokeWidth": 1.5},
          "layer": [
            {
              "data": {"values": [
                {"term":"Cell-matrix adhesion","fe":4.0,"n":6,"p":4.3},
                {"term":"Apoptotic signaling pathway","fe":5.0,"n":6,"p":4.3},
                {"term":"Cellular response to retinoic acid","fe":5.1,"n":6,"p":4.3},
                {"term":"Defense response","fe":5.35,"n":6,"p":4.3},
                {"term":"Positive chemotaxis","fe":10.2,"n":6,"p":4.3},
                {"term":"Tumor necrosis factor-mediated signaling pathway","fe":3.5,"n":8,"p":4.3},
                {"term":"Platelet activation","fe":3.65,"n":7,"p":4.3},
                {"term":"Response to cytokine","fe":8.0,"n":8,"p":4.3},
                {"term":"Negative regulation of type I interferon production","fe":13.85,"n":7,"p":6.5},
                {"term":"Regulation of cell proliferation","fe":2.6,"n":9,"p":4.3},
                {"term":"Regulation of immune response","fe":2.7,"n":9,"p":4.3},
                {"term":"Response to hypoxia","fe":2.85,"n":9,"p":4.3},
                {"term":"Axon guidance","fe":3.0,"n":9,"p":4.3},
                {"term":"Negative regulation of endopeptidase activity","fe":4.5,"n":9,"p":4.3},
                {"term":"regulation of sequence-specific DNA binding transcription factor activity","fe":5.2,"n":9,"p":4.3},
                {"term":"Response to lipopolysaccharide","fe":3.65,"n":10,"p":4.3},
                {"term":"Extracellular matrix organization","fe":3.35,"n":11,"p":4.3},
                {"term":"Response to drug","fe":2.4,"n":13,"p":4.3},
                {"term":"Positive regulation of cell migration","fe":3.95,"n":13,"p":4.3},
                {"term":"Positive regulation of I-kappaB kinase/NF-kappaB signaling","fe":4.8,"n":14,"p":6.5},
                {"term":"Interferon-gamma-mediated signaling pathway","fe":11.8,"n":13,"p":11},
                {"term":"Negative regulation of viral genome replication","fe":20.75,"n":15,"p":13},
                {"term":"Inflammatory response","fe":2.7,"n":17,"p":4.3},
                {"term":"Cell adhesion","fe":2.4,"n":18,"p":4.3},
                {"term":"Response to virus","fe":10.3,"n":19,"p":13},
                {"term":"Innate immune response","fe":2.95,"n":21,"p":6.5},
                {"term":"Type I interferon signaling pathway","fe":21.35,"n":23,"p":19.5},
                {"term":"Immune response","fe":3.3,"n":25,"p":6.5},
                {"term":"Defense response to virus","fe":10.1,"n":27,"p":17.5},
                {"term":"Signal transduction","fe":1.8,"n":35,"p":4.3}
              ]},
              "mark": {"type": "circle", "opacity": 1},
              "encoding": {
                "y": {"field": "term", "type": "nominal", "sort": null,
                      "scale": {"type": "band", "paddingInner": 0, "paddingOuter": 0.05,
                                "domain": [" ", "  ", "Cell-matrix adhesion", "Apoptotic signaling pathway", "Cellular response to retinoic acid", "Defense response", "Positive chemotaxis", "Tumor necrosis factor-mediated signaling pathway", "Platelet activation", "Response to cytokine", "Negative regulation of type I interferon production", "Regulation of cell proliferation", "Regulation of immune response", "Response to hypoxia", "Axon guidance", "Negative regulation of endopeptidase activity", "regulation of sequence-specific DNA binding transcription factor activity", "Response to lipopolysaccharide", "Extracellular matrix organization", "Response to drug", "Positive regulation of cell migration", "Positive regulation of I-kappaB kinase/NF-kappaB signaling", "Interferon-gamma-mediated signaling pathway", "Negative regulation of viral genome replication", "Inflammatory response", "Cell adhesion", "Response to virus", "Innate immune response", "Type I interferon signaling pathway", "Immune response", "Defense response to virus", "Signal transduction", "   ", "    "]},
                      "axis": {"title": null, "labelFontSize": 7.5, "labelLimit": 320, "labelColor": "#333", "tickSize": 3, "tickColor": "#444", "domain": false, "grid": true, "gridColor": "#ffffff", "gridWidth": 0.7, "bandPosition": 0.5, "labelPadding": 2}},
                "x": {"field": "fe", "type": "quantitative", "scale": {"domain": [0, 25], "nice": false, "zero": false},
                      "axis": {"title": "Fold Enrichment", "values": [0, 2.5, 5, 7.5, 10, 12.5, 15, 17.5, 20, 22.5, 25], "labelExpr": "datum.value % 5 == 0 ? datum.label : ''", "grid": true, "gridColor": "#ffffff", "gridWidth": 0.7, "tickSize": 3, "tickColor": "#444", "domain": false, "labelFontSize": 7, "titleFontSize": 8, "titleFontWeight": "normal", "titlePadding": 4, "labelColor": "#333"}},
                "color": {"field": "p", "type": "quantitative",
                          "scale": {"type": "quantize", "domain": [1, 23], "range": ["#000000", "#0b2e6a", "#2b78c2", "#6aaed8", "#d3e5f3", "#fcc4ad", "#f9795a", "#d8231f", "#6a0010", "#bdbdbd"]},
                          "legend": {"type": "gradient", "title": "-Log10 P-Value", "orient": "none", "legendX": 195, "legendY": 50, "direction": "vertical", "gradientLength": 115, "gradientThickness": 6, "titleFontSize": 8, "titleFontWeight": "normal", "labelExpr": "''", "labelFontSize": 7.5, "titlePadding": 16}},
                "size": {"field": "n", "type": "quantitative",
                         "scale": {"type": "pow", "exponent": 2, "domain": [6, 35], "range": [8.5, 452], "zero": false},
                         "legend": {"title": "Gene Number", "orient": "none", "legendX": 195, "legendY": 248, "values": [6, 16, 25, 35], "symbolType": "circle", "symbolFillColor": "#0b2e6a", "symbolStrokeColor": "#0b2e6a", "symbolStrokeWidth": 0, "titleFontSize": 8, "titleFontWeight": "normal", "labelFontSize": 7.5, "rowPadding": 8}}
              }
            },
            {
              "data": {"values": [
                {"term":"Apoptotic signaling pathway","b1":-13.6,"b2":-0.5},
                {"term":"Regulation of cell proliferation","b1":-14.7,"b2":-0.5},
                {"term":"Positive regulation of cell migration","b1":-17.2,"b2":-0.5}]},
              "mark": {"type": "bar", "fillOpacity": 0, "stroke": "#c8403c", "strokeWidth": 1, "height": {"band": 0.9}},
              "encoding": {"y": {"field": "term", "type": "nominal", "sort": null}, "x": {"field": "b1", "type": "quantitative"}, "x2": {"field": "b2"}}
            },
            {
              "data": {"values": [
                {"term":"Apoptotic signaling pathway","a1":-16.3,"a2":-14.3},
                {"term":"Regulation of cell proliferation","a1":-17.7,"a2":-15.7},
                {"term":"Positive regulation of cell migration","a1":-20.0,"a2":-18.0}]},
              "layer": [
                {"mark": {"type": "rule", "color": "#8b1a1a", "strokeWidth": 2.5},
                 "encoding": {"y": {"field": "term", "type": "nominal", "sort": null, "bandPosition": 0.5}, "x": {"field": "a1", "type": "quantitative"}, "x2": {"field": "a2"}}},
                {"mark": {"type": "point", "shape": "triangle-right", "filled": true, "size": 45, "color": "#8b1a1a", "opacity": 1},
                 "encoding": {"y": {"field": "term", "type": "nominal", "sort": null, "bandPosition": 0.5}, "x": {"field": "a2", "type": "quantitative"}}}
              ]
            },
            {"data": {"values": [{}]}, "mark": {"type": "text", "text": "B", "fontSize": 21, "fontWeight": "bold", "dy": -22, "align": "center", "baseline": "middle"},
             "encoding": {"x": {"datum": -20.8, "type": "quantitative"}, "y": {"datum": "Cell-matrix adhesion", "type": "nominal", "bandPosition": 0.5}}},
            {"data": {"values": [{}]}, "mark": {"type": "text", "text": "23", "fontSize": 7.5, "color": "#333", "dy": 3, "align": "center", "baseline": "middle"},
             "encoding": {"x": {"datum": 26.9, "type": "quantitative"}, "y": {"datum": "Defense response", "type": "nominal", "bandPosition": 0.5}}},
            {"data": {"values": [{}]}, "mark": {"type": "text", "text": "1", "fontSize": 7.5, "color": "#333", "dy": 1, "align": "center", "baseline": "middle"},
             "encoding": {"x": {"datum": 26.9, "type": "quantitative"}, "y": {"datum": "regulation of sequence-specific DNA binding transcription factor activity", "type": "nominal", "bandPosition": 0.5}}}
          ]
        },
        {
          "width": 257, "height": 300,
          "layer": [
            {"data": {"values": [{"set":"Apoptosis","cx":22.3,"cy":16.9},{"set":"Proliferation","cx":13.9,"cy":16.9},{"set":"Migration","cx":18.1,"cy":8.3}]},
             "mark": {"type": "point", "shape": "circle", "filled": true, "size": 19600, "opacity": 0.6, "strokeWidth": 0},
             "encoding": {
               "x": {"field": "cx", "type": "quantitative", "scale": {"domain": [24.4, 50.1], "nice": false, "zero": false}, "axis": null},
               "y": {"field": "cy", "type": "quantitative", "scale": {"domain": [0, 30], "nice": false, "zero": false}, "axis": null},
               "color": {"field": "set", "type": "nominal", "scale": {"domain": ["Proliferation", "Apoptosis", "Migration"], "range": ["#8282e4", "#ee6c5c", "#8fbce8"]},
                         "legend": {"title": null, "orient": "none", "legendX": 100, "legendY": 142, "symbolType": "square", "symbolSize": 64, "symbolOpacity": 0.85, "labelFontSize": 10.5, "labelFontWeight": "bold", "labelColor": "#222", "labelOffset": 7, "rowPadding": 5, "padding": 0}}
             }},
            {"data": {"values": [{"t":"3","x":11.8,"y":17.5},{"t":"3","x":18.1,"y":19.0},{"t":"3","x":24.3,"y":17.5},{"t":"0","x":18.1,"y":13.6},{"t":"2","x":13.6,"y":11.7},{"t":"0","x":22.8,"y":11.7},{"t":"10","x":18.1,"y":6.5}]},
             "mark": {"type": "text", "fontSize": 11.5, "fontWeight": "bold", "color": "#111", "baseline": "middle"},
             "encoding": {"x": {"field": "x", "type": "quantitative"}, "y": {"field": "y", "type": "quantitative"}, "text": {"field": "t"}}},
            {"data": {"values": [{"t":"JUP","x":10.2,"y":19.1},{"t":"TIAM1","x":18.2,"y":4.7}]},
             "mark": {"type": "text", "fontSize": 11.5, "fontWeight": "bold", "color": "#c0282d", "baseline": "middle"},
             "encoding": {"x": {"field": "x", "type": "quantitative"}, "y": {"field": "y", "type": "quantitative"}, "text": {"field": "t"}}},
            {"data": {"values": [{"t":"NGFR","x":17.5,"y":28.7},{"t":"FAS","x":17.5,"y":27.6},{"t":"TNFRSF14","x":17.5,"y":26.5},{"t":"PLAU","x":5.2,"y":8.4},{"t":"PTK2B","x":5.2,"y":7.2}]},
             "mark": {"type": "text", "fontSize": 7.8, "fontWeight": "bold", "color": "#111", "align": "left", "baseline": "middle"},
             "encoding": {"x": {"field": "x", "type": "quantitative"}, "y": {"field": "y", "type": "quantitative"}, "text": {"field": "t"}}},
            {"data": {"values": [{"x":18.2,"y":20.5,"x2":18.2,"y2":25.2},{"x":12.5,"y":11.0,"x2":8.3,"y2":8.55}]},
             "mark": {"type": "rule", "color": "#111", "strokeWidth": 1},
             "encoding": {"x": {"field": "x", "type": "quantitative"}, "y": {"field": "y", "type": "quantitative"}, "x2": {"field": "x2"}, "y2": {"field": "y2"}}},
            {"data": {"values": [{}]}, "mark": {"type": "point", "shape": "triangle-up", "filled": true, "size": 22, "color": "#111", "opacity": 1},
             "encoding": {"x": {"datum": 18.2, "type": "quantitative"}, "y": {"datum": 25.3, "type": "quantitative"}}},
            {"data": {"values": [{}]}, "mark": {"type": "point", "shape": "triangle-up", "filled": true, "size": 22, "color": "#111", "opacity": 1, "angle": 240},
             "encoding": {"x": {"datum": 8.1, "type": "quantitative"}, "y": {"datum": 8.45, "type": "quantitative"}}},
            {"data": {"values": [{}]}, "mark": {"type": "text", "text": "D", "fontSize": 21, "fontWeight": "bold", "align": "center", "baseline": "middle"},
             "encoding": {"x": {"datum": 4.8, "type": "quantitative"}, "y": {"datum": 30.5, "type": "quantitative"}}}
          ]
        }
      ]
    }
  ]
}
